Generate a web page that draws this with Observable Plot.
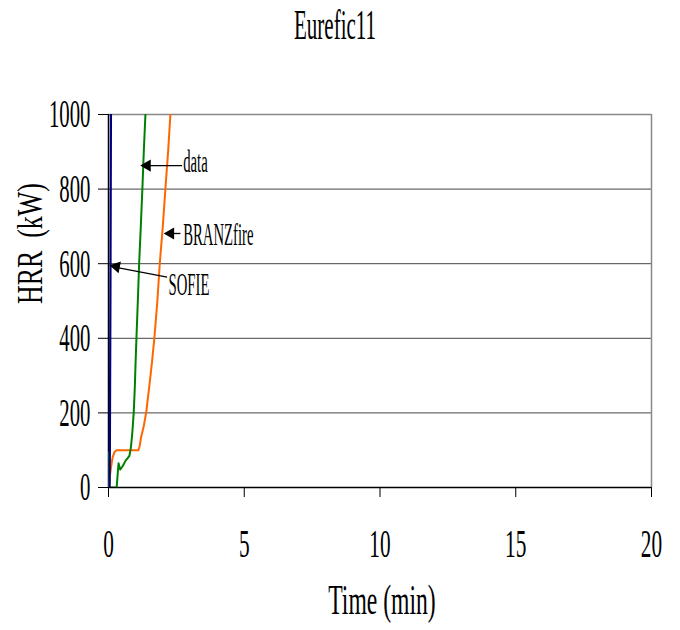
<!DOCTYPE html>
<html>
<head>
<meta charset="utf-8">
<script src="https://cdn.jsdelivr.net/npm/d3@7"></script>
<script src="https://cdn.jsdelivr.net/npm/@observablehq/plot@0.6"></script>
<style>
  html, body { margin: 0; padding: 0; background: #fff; }
</style>
</head>
<body>
<div id="chart"></div>
<script>
// ---- data ----
const title = "Eurefic11";
const xLabel = "Time (min)";
const yLabel = "HRR  (kW)";
const xTicks = [0, 5, 10, 15, 20];
const yTicks = [0, 200, 400, 600, 800, 1000];

const dataTime = [0.02, 0.03, 0.30, 0.37, 0.43, 0.50, 0.56, 0.63, 0.70, 0.77, 0.82, 0.87, 0.90, 0.93, 0.97, 1.00, 1.03, 1.08, 1.13, 1.19, 1.25, 1.30, 1.36, 1.40];
const dataHRR  = [95,   0,    0,    65,   48,   55,   62,   72,   78,   85,   105,  140,  170,  202,  270,  340,  402,  500,  603,  700,  805,  900,  1000, 1060];

const branzTime = [0, 0.05, 0.10, 0.15, 0.22, 0.30, 0.60, 0.90, 1.10, 1.15, 1.20, 1.30, 1.39, 1.50, 1.60, 1.69, 1.80, 1.89, 2.00, 2.10, 2.20, 2.28, 2.35];
const branzHRR  = [0, 30,   58,   80,   95,   100,  100,  100,  100,  112,  135,  165,  202,  270,  335,  401,  500,  602,  700,  805,  905,  1000, 1080];

const sofieTime = [0.04, 0.05, 0.07, 0.09, 0.10];
const sofieHRR  = [0,    100,  500,  1000, 1100];

// annotations: label, label position, arrow tail and tip
const annLabels = ["data", "BRANZfire", "SOFIE"];
const annX      = [2.75, 2.75, 2.21];
const annY      = [874, 678, 544];
const arrowX1   = [2.71, 2.65, 2.16];
const arrowY1   = [863, 681, 564];
const arrowX2   = [1.28, 2.14, 0.14];
const arrowY2   = [863, 681, 592];
const arrowRot  = [-90, -90, -79];

// ---- tables built from arrays ----
const series = (t, h) => t.map((d, i) => ({t: d, hrr: h[i]}));
const dataS = series(dataTime, dataHRR);
const branzS = series(branzTime, branzHRR);
const sofieS = series(sofieTime, sofieHRR);
const ann = annLabels.map((l, i) => ({
  label: l, x: annX[i], y: annY[i],
  x1: arrowX1[i], y1: arrowY1[i], x2: arrowX2[i], y2: arrowY2[i], rot: arrowRot[i]
}));

const font = "'Liberation Serif', 'Times New Roman', serif";

const plot = Plot.plot({
  width: 680,
  height: 630,
  marginLeft: 108,
  marginRight: 29,
  marginTop: 114,
  marginBottom: 143,
  style: {fontFamily: font, fontSize: "40px", background: "#fff", color: "#000"},
  x: {domain: [0, 20]},
  y: {domain: [0, 1000]},
  marks: [
    Plot.ruleY(yTicks.filter(d => d > 0 && d < 1000), {stroke: "#444", strokeWidth: 1}),
    Plot.ruleY([1000], {stroke: "#888", strokeWidth: 1.5}),
    Plot.ruleX([20], {stroke: "#888", strokeWidth: 1.5}),
    Plot.ruleY([0], {stroke: "#000", strokeWidth: 1.5}),
    Plot.ruleX([0], {stroke: "#000", strokeWidth: 1.5}),
    Plot.line(branzS, {x: "t", y: "hrr", stroke: "#ff6600", strokeWidth: 2, clip: true}),
    Plot.line(dataS, {x: "t", y: "hrr", stroke: "#008000", strokeWidth: 2, clip: true}),
    Plot.line(sofieS, {x: "t", y: "hrr", stroke: "#000080", strokeWidth: 2.2, clip: true}),
    Plot.axisX({ticks: xTicks, tickSize: 10, tickPadding: 30, label: null, fontSize: 41}),
    Plot.axisY({ticks: yTicks, tickSize: 10, tickPadding: 8, label: null, tickFormat: "d", fontSize: 40}),
    Plot.link(ann, {x1: "x1", y1: "y1", x2: "x2", y2: "y2", stroke: "#000", strokeWidth: 1.3}),
    Plot.dot(ann, {x: "x2", y: "y2", symbol: "triangle", r: 4.5, fill: "#000", rotate: "rot", dx: 4}),
    Plot.text(ann, {x: "x", y: "y", text: "label", textAnchor: "start", fontSize: 32}),
    Plot.text([title], {frameAnchor: "top", lineAnchor: "middle", text: d => d, dy: -89, dx: -45, fontSize: 42}),
    Plot.text([xLabel], {frameAnchor: "bottom", lineAnchor: "middle", text: d => d, dy: 113, dx: 2, fontSize: 43}),
    Plot.text([yLabel], {frameAnchor: "left", text: d => d, dx: -78, dy: 3, rotate: -90, fontSize: 36})
  ]
});

// condense the serif glyphs horizontally to mimic the narrow original typeface
const squeeze = {40: 0.52, 41: 0.52, 42: 0.5, 43: 0.55, 36: 0.72, 32: 0.46};
plot.querySelectorAll("text").forEach(t => {
  const g = t.closest("[font-size]");
  const size = g ? parseFloat(g.getAttribute("font-size")) : NaN;
  const s = squeeze[size];
  if (!s) return;
  const tr = t.getAttribute("transform") || "";
  t.setAttribute("transform", `${tr} scale(${s},1)`);
});

document.getElementById("chart").appendChild(plot);
</script>
</body>
</html>
